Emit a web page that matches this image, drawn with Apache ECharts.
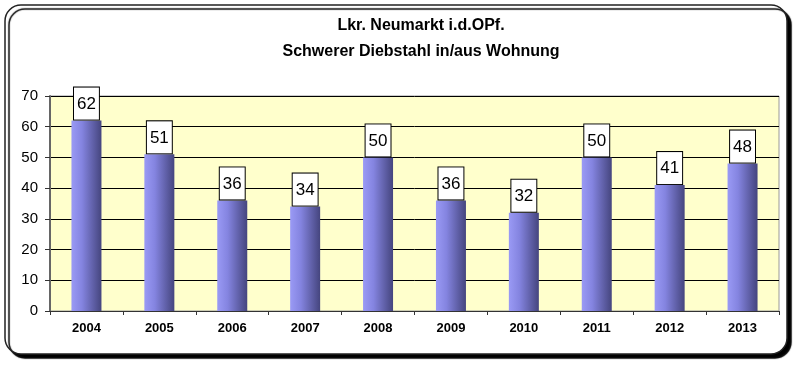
<!DOCTYPE html>
<html><head><meta charset="utf-8">
<script src="https://cdn.jsdelivr.net/npm/echarts@6/dist/echarts.min.js"></script>
<style>html,body{margin:0;padding:0;background:#fff;}#c{width:800px;height:367px;}</style>
</head><body><div id="c"></div>
<script>
const years = ['2004','2005','2006','2007','2008','2009','2010','2011','2012','2013'];
const values = [62,51,36,34,50,36,32,50,41,48];
const yTicks = [0,10,20,30,40,50,60,70];

const chart = echarts.init(document.getElementById('c'), null, {renderer:'canvas'});
chart.setOption({
  animation:false,
  backgroundColor:'#ffffff',
  title:{
    text:'Lkr. Neumarkt i.d.OPf.\nSchwerer Diebstahl in/aus Wohnung',
    left:416, top:8, textAlign:'center',
    textStyle:{fontFamily:'Liberation Sans, Arial', fontWeight:'bold', fontSize:16, lineHeight:26, color:'#000'}
  },
  graphic:[{
    type:'rect', z:-10, silent:true,
    shape:{x:5, y:5, width:782, height:349, r:16},
    style:{fill:'#ffffff', stroke:'#222', lineWidth:1.5, shadowColor:'rgba(0,0,0,1)', shadowOffsetX:4, shadowOffsetY:4, shadowBlur:1}
  }],
  grid:{left:50, right:21, top:96, bottom:56, show:true, backgroundColor:'#ffffcc', borderColor:'#999', borderWidth:1},
  xAxis:{
    type:'category', data:years,
    axisLine:{lineStyle:{color:'#333', width:1}},
    axisTick:{show:true, length:4, lineStyle:{color:'#333'}},
    axisLabel:{fontFamily:'Liberation Sans, Arial', fontWeight:'bold', fontSize:13, color:'#000', margin:11}
  },
  yAxis:{
    type:'value', min:0, max:70, interval:10,
    axisLine:{show:true, lineStyle:{color:'#666', width:2}},
    axisTick:{show:true, length:5, lineStyle:{color:'#333'}},
    axisLabel:{fontFamily:'Liberation Sans, Arial', fontSize:15, color:'#000', margin:12,
      formatter:v=>yTicks.includes(v)?String(v):''},
    splitLine:{lineStyle:{color:'#000', width:1}}
  },
  series:[{
    type:'bar', data:values, barWidth:30,
    itemStyle:{
      color:new echarts.graphic.LinearGradient(0,0,1,0,[
        {offset:0, color:'#9a9af5'},
        {offset:0.35, color:'#8484e0'},
        {offset:1, color:'#45457e'}
      ])
    },
    label:{
      show:true, position:'top', distance:1,
      fontFamily:'Liberation Sans, Arial', fontSize:17, color:'#000',
      backgroundColor:'#ffffff', borderColor:'#000', borderWidth:1,
      padding:[8,3,7,3]
    }
  }]
});
</script></body></html>
